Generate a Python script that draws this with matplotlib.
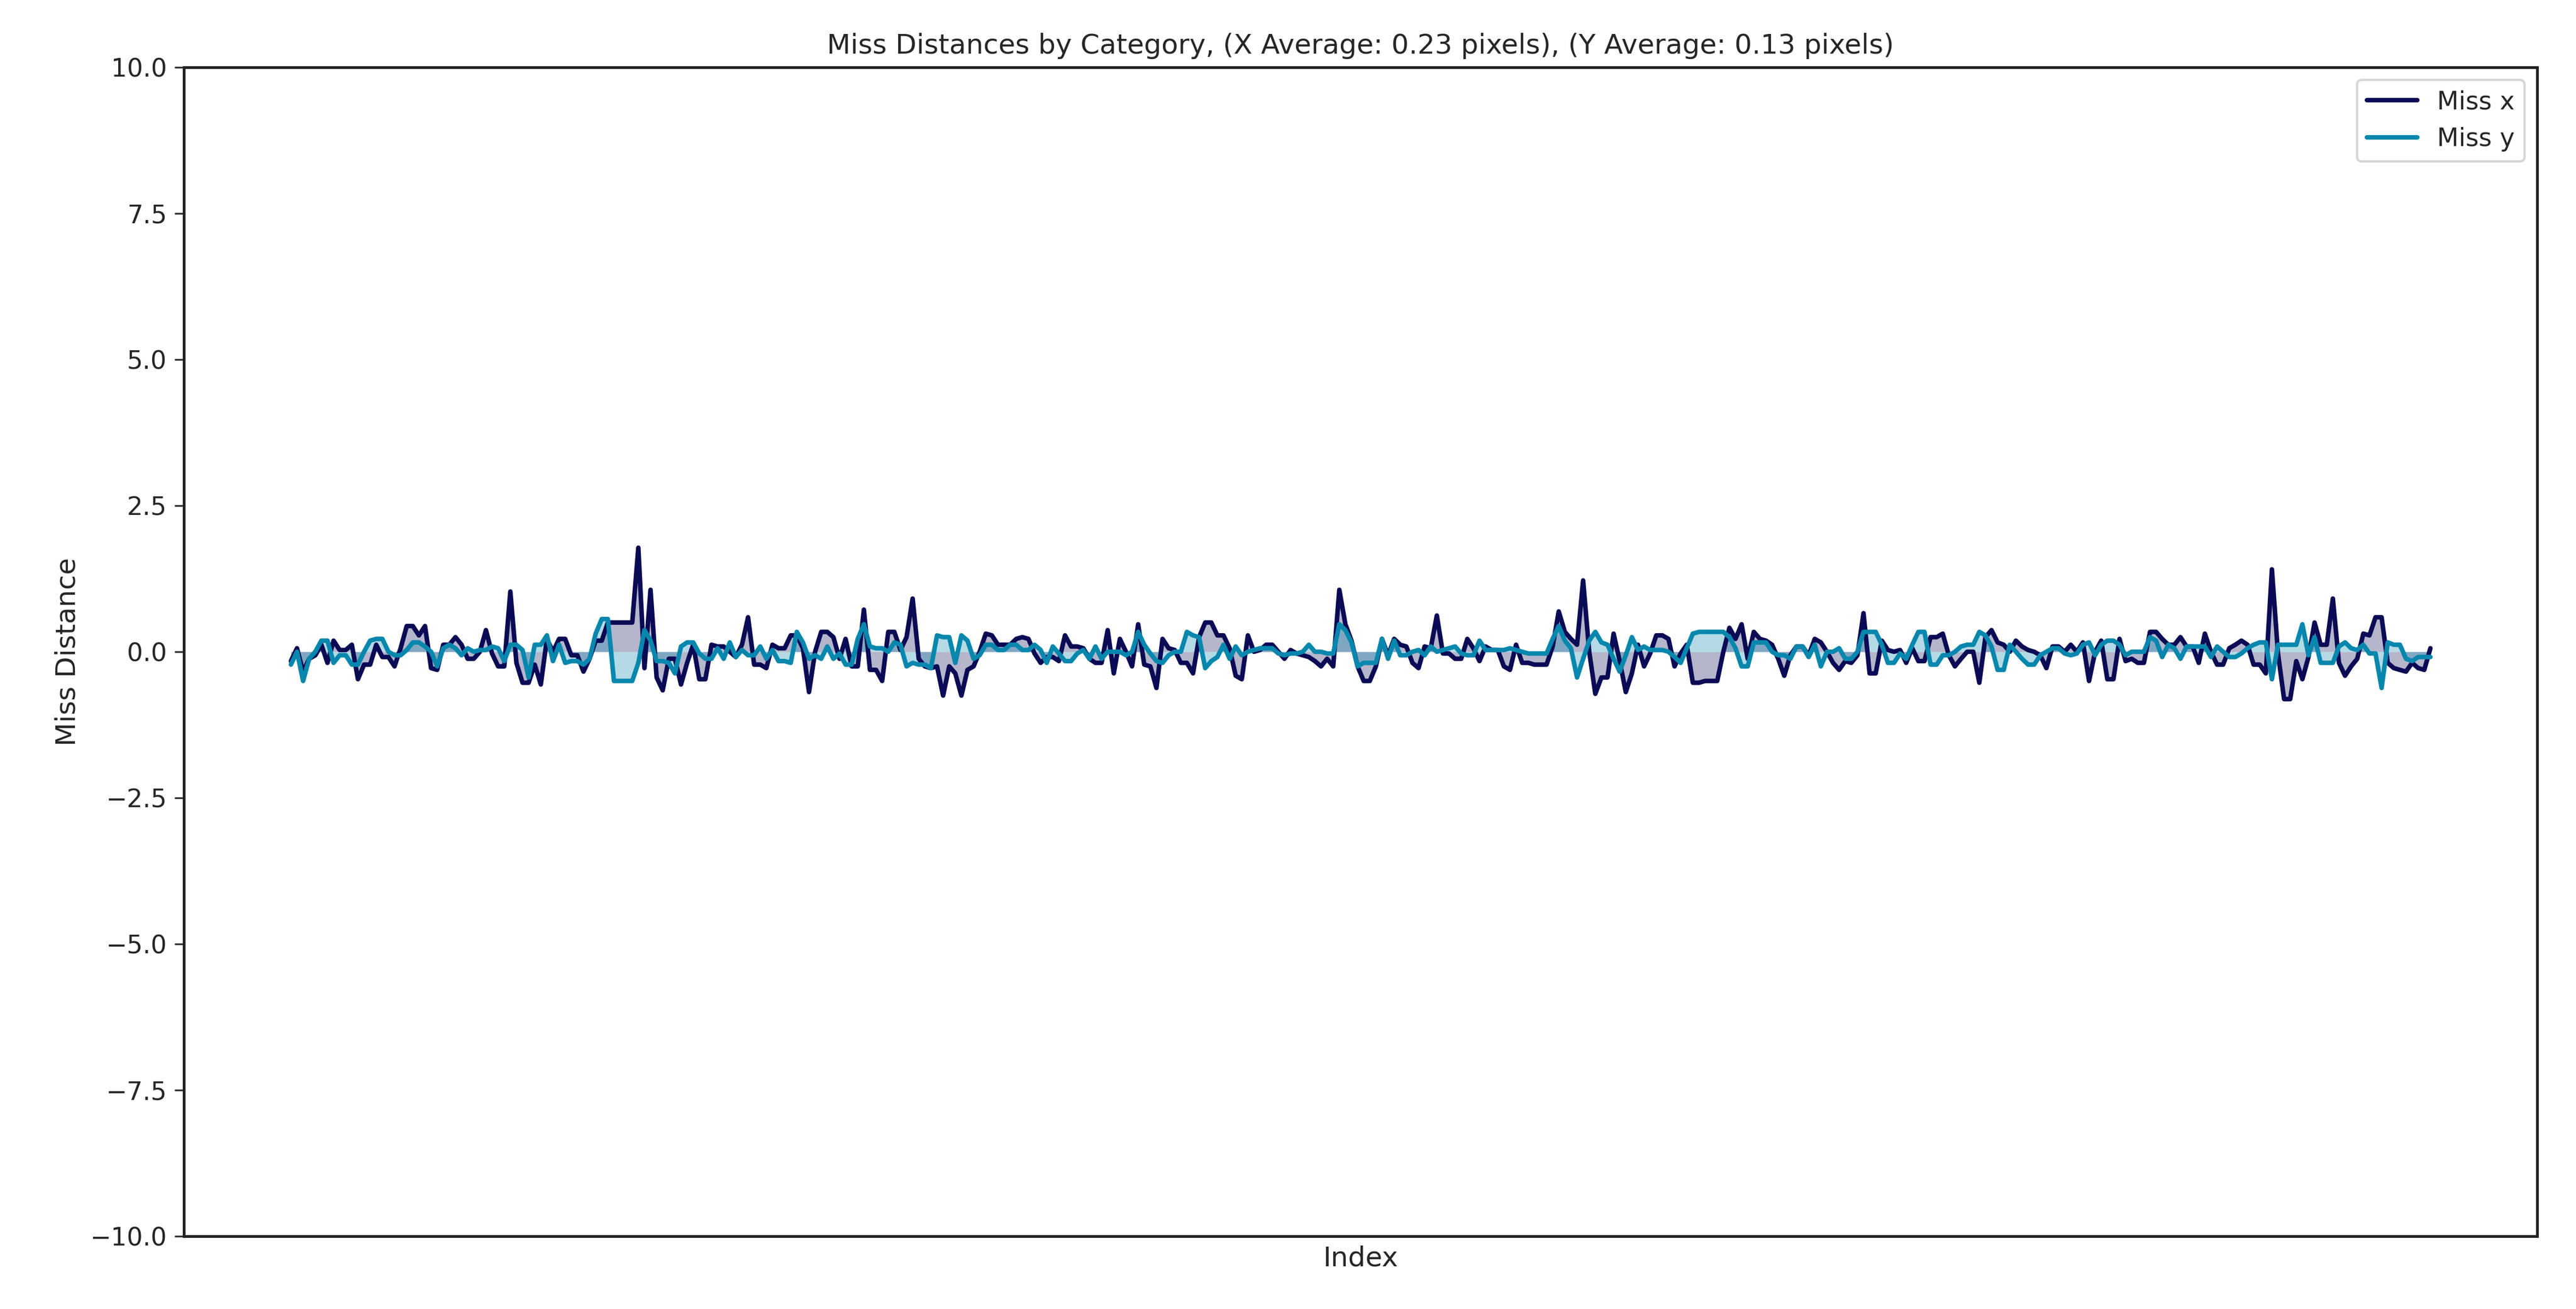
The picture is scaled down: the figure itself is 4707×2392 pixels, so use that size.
import numpy as np
import matplotlib
matplotlib.use("Agg")
import matplotlib.pyplot as plt
import seaborn as sns

miss_x_1 = [-0.16,0.06,-0.34,-0.12,-0.06,0.12,-0.19,0.19,0.03,0.03,0.12,-0.47,-0.22,-0.22,0.12,-0.09,-0.09,-0.25,0.06,0.44,0.44,0.28,0.44,-0.28,-0.31,0.12,0.12,0.25,0.12,-0.12,-0.12,0,0.37,-0.03,-0.25,-0.25,1.03,-0.19,-0.53,-0.53,-0.22,-0.56,0.22,0,0.22,0.22,-0.06,-0.06,-0.34,-0.12,0.19,0.19,0.5,0.5]
miss_y_1 = [-0.22,0,-0.5,-0.12,0,0.19,0.19,-0.19,-0.06,-0.06,-0.22,-0.22,0,0.19,0.22,0.22,0,-0.06,-0.06,0.03,0.16,0.16,0.09,0,-0.25,0.06,0.12,0.06,-0.06,0.06,0,0.03,0.03,0.09,0.06,-0.16,0.12,0.12,0.03,-0.44,0.12,0.12,0.28,-0.16,0.12,-0.19,-0.16,-0.16,-0.22,-0.12,0.31,0.56,0.56,-0.5]
miss_x_2 = [0.5,0.5,0.5,1.78,-0.28,1.06,-0.44,-0.66,-0.12,-0.12,-0.56,-0.19,0.12,-0.47,-0.47,0.12,0.09,0.09,0,-0.09,0.12,0.59,-0.22,-0.22,-0.28,0.12,0.06,0.06,0.28,0.28,0.06,-0.69,0,0.34,0.34,0.25,-0.12,0.22,-0.25,-0.25,0.72,-0.31,-0.31,-0.5,0.34,0.34,0.03,0.25,0.91,-0.12,-0.25,-0.28,-0.25,-0.75,-0.25]
miss_y_2 = [-0.5,-0.5,-0.5,-0.19,0.37,0.19,-0.16,-0.16,-0.19,-0.37,0.09,0.16,0.16,-0.03,-0.12,-0.12,0.06,-0.12,0.16,-0.09,0.03,-0.06,-0.06,0.09,-0.12,0.03,-0.16,-0.16,-0.19,0.34,0.16,-0.12,-0.06,-0.12,0.09,-0.12,-0.03,-0.22,-0.22,0.22,0.47,0.09,0.06,0.06,0,0.16,0.12,-0.25,-0.19,-0.22,-0.22,-0.28,0.28,0.25,0.25]
miss_x_3 = [-0.37,-0.75,-0.31,-0.25,0,0.31,0.28,0.12,0.12,0.12,0.22,0.25,0.22,-0.03,-0.19,-0.09,-0.09,-0.16,0.28,0.09,0.09,0.06,-0.12,-0.19,-0.19,0.37,-0.37,0.22,0,-0.25,0.47,-0.22,-0.25,-0.62,0.22,0.06,0.03,-0.19,-0.19,-0.37,0.25,0.5,0.5,0.28,0.28,0.06,-0.41,-0.47,0.28,0,0.03,0.12,0.12,0,-0.12,0.03,-0.03,-0.06,-0.09,-0.16,-0.25]
miss_y_3 = [-0.19,0.28,0.19,-0.12,-0.06,0.12,0.12,0.03,0.03,0.12,0.12,0.03,0.03,0.12,0.03,-0.19,0.09,-0.03,-0.16,-0.16,-0.03,0.03,-0.12,0.09,-0.12,0,0,0,-0.06,0,0.34,0.12,-0.03,-0.16,-0.19,-0.06,0,0,0.34,0.28,0.25,-0.28,-0.16,-0.09,0.12,-0.12,0.09,-0.06,0,0.03,0.06,0.06,0.06,-0.03,-0.06,-0.03,-0.03,0,0.12,0,0]
miss_x_4 = [-0.12,-0.25,1.06,0.47,0.19,-0.25,-0.5,-0.5,-0.25,0.22,-0.06,0.22,0.12,0.09,-0.19,-0.28,0.09,0.06,0.62,-0.03,-0.03,-0.12,-0.12,0.22,0.06,-0.16,0.09,0.03,0.03,-0.25,-0.31,0.12,-0.19,-0.19,-0.22,-0.22,-0.22,0.09,0.69,0.34,0.22,0.12,1.22,0,-0.72,-0.44,-0.44,0.31,-0.16,-0.69,-0.37,0.12,-0.25,-0.03,0.28,0.28,0.22,-0.25,-0.03,0.12,-0.53,-0.53,-0.5]
miss_y_4 = [-0.03,-0.03,0.47,0.37,0.16,-0.25,-0.19,-0.19,-0.19,0.22,-0.12,0.19,-0.06,-0.06,0,0.03,-0.06,0.09,0,0.03,0.06,0.09,-0.03,-0.06,-0.06,0.19,0.03,0.03,0.03,0.03,0.06,0.03,0,-0.03,-0.03,-0.03,-0.03,0.22,0.44,0.19,0.06,-0.44,-0.12,0.19,0.34,0.16,0.12,-0.12,-0.34,-0.06,0.25,0.03,0.09,0.03,0.03,0.03,0,-0.09,-0.19,0.06,0.31,0.34,0.34]
miss_x_5 = [-0.5,-0.5,0,0.41,0.22,0.47,-0.12,0.34,0.22,0.19,0.12,-0.12,-0.41,-0.06,0.09,0.09,-0.06,0.22,0.16,0,-0.19,-0.31,-0.16,-0.19,-0.06,0.66,-0.37,-0.37,0.19,0.03,0,0.03,-0.19,0.06,-0.16,-0.16,0.25,0.25,0.31,-0.06,-0.25,-0.12,0,0,-0.53,0.25,0.37,0.16,0.12,0,0.19,0.09,0.03,0,-0.06,-0.28,0.09,0.09,0,0.12,0,0.16,-0.5]
miss_y_5 = [0.34,0.34,0.34,0.25,0.06,-0.25,-0.25,0.16,0.16,0.16,0,-0.06,-0.06,-0.12,0.09,0.09,-0.09,0.12,-0.25,0,0,0.06,-0.12,-0.12,0,0.34,0.34,0.34,0.12,-0.19,-0.19,-0.03,-0.12,0.12,0.34,0.34,-0.22,-0.22,-0.06,-0.06,0,0.09,0.12,0.12,0.34,0.28,0.09,-0.31,-0.31,0.12,0,-0.12,-0.22,-0.22,-0.06,0,0.06,0.06,-0.03,-0.06,-0.03,0.12,0.16]
miss_x_6 = [0,0.19,-0.47,-0.47,0.22,-0.16,-0.12,-0.19,-0.19,0.34,0.34,0.22,0.12,0.12,0.25,0.09,0.09,-0.19,0.31,0,-0.22,-0.22,0.06,0.12,0.19,0.12,-0.22,-0.22,-0.37,1.41,-0.03,-0.81,-0.81,-0.16,-0.47,-0.09,0.5,0.12,0.12,0.91,-0.19,-0.41,-0.25,-0.12,0.31,0.28,0.59,0.59,-0.19,-0.28,-0.31,-0.34,-0.19,-0.28,-0.31,0.06]
miss_y_6 = [-0.06,0.12,0.19,0.19,0.12,-0.06,0,0,0,0.25,0.19,-0.09,0.12,0.06,-0.12,0.09,0.09,0.09,0.09,-0.09,0.09,0,-0.09,-0.09,-0.03,0.06,0.12,0.16,0.16,-0.47,0.12,0.12,0.12,0.12,0.47,-0.06,0.25,-0.19,-0.19,-0.19,0.09,0.16,0.06,0.03,0.12,-0.03,-0.03,-0.62,0.16,0.12,0.12,-0.12,-0.16,-0.09,-0.09,-0.09]

miss_x = miss_x_1 + miss_x_2 + miss_x_3 + miss_x_4 + miss_x_5 + miss_x_6
miss_y = miss_y_1 + miss_y_2 + miss_y_3 + miss_y_4 + miss_y_5 + miss_y_6
n = min(len(miss_x), len(miss_y))
miss_x = np.array(miss_x[:n]); miss_y = np.array(miss_y[:n])
idx = np.arange(n)

title = "Miss Distances by Category, (X Average: 0.23 pixels), (Y Average: 0.13 pixels)"

sns.set_style("white")
fig = plt.figure(figsize=(4707/300, 2392/300), dpi=300)
ax = fig.add_axes([0.0714, 0.0556, 0.9136, 0.893])
cx, cy = "#0b0a55", "#0787ad"
ax.plot(idx, miss_x, color=cx, lw=2, label="Miss x")
ax.fill_between(idx, miss_x, 0, color=cx, alpha=0.3, lw=0)
ax.plot(idx, miss_y, color=cy, lw=2, label="Miss y")
ax.fill_between(idx, miss_y, 0, color=cy, alpha=0.3, lw=0)
ax.set_ylim(-10, 10)
ax.set_xticks([])
ax.set_xlabel("Index", fontsize=12)
ax.set_ylabel("Miss Distance", fontsize=12)
ax.set_title(title, fontsize=12)
ax.tick_params(axis='y', labelsize=11, left=True, length=4, color='#333333')
for s in ax.spines.values():
    s.set_color('#222222'); s.set_linewidth(1.2)
ax.legend(loc="upper right", fontsize=11)
fig.savefig("out.png", dpi=300)
